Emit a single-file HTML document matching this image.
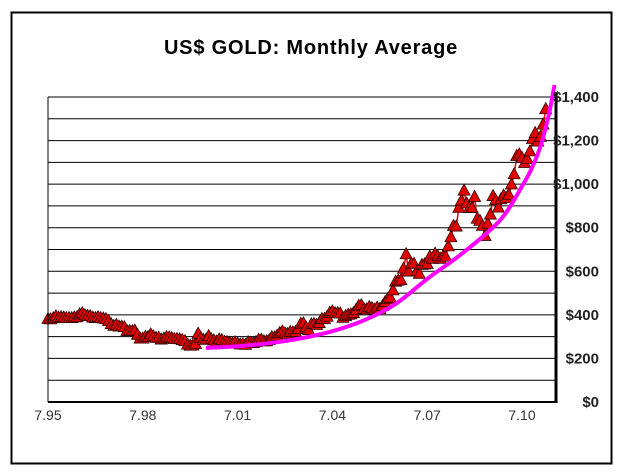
<!DOCTYPE html>
<html><head><meta charset="utf-8"><style>
html,body{margin:0;padding:0;background:#fff;}
svg{display:block;font-family:"Liberation Sans",Arial,sans-serif;}
</style></head><body>
<svg id="chart" width="621" height="474" viewBox="0 0 621 474">
<rect x="11.5" y="12.5" width="600" height="451" fill="#fff" stroke="#000" stroke-width="2"/>
<text x="311" y="54" text-anchor="middle" font-size="20" font-weight="bold" letter-spacing="0.8">US$ GOLD: Monthly Average</text>
<g id="grid"></g><g id="series"></g><g id="trend"></g><g id="axes"></g>
</svg>
<script>
const yTicks=[0,200,400,600,800,1000,1200,1400];
const yTickLabels=["$0","$200","$400","$600","$800","$1,000","$1,200","$1,400"];
const xTicks=[1995,1998,2001,2004,2007,2010];
const xTickLabels=["7.95","7.98","7.01","7.04","7.07","7.10"];
const startYear=1995;
const prices=[
379,377,382,391,385,387,386,383,383,383,386,387,
400,405,396,393,392,385,383,387,383,381,378,369,
355,347,352,344,344,341,324,324,323,325,306,289,
289,297,296,308,299,292,293,284,289,296,294,291,
287,287,286,282,277,261,256,257,264,311,293,283,
284,300,286,280,275,285,282,274,273,270,266,272,
265,262,263,260,272,270,268,273,283,283,276,276,
282,295,294,302,314,321,313,310,319,317,319,333,
357,359,340,328,355,356,351,360,379,379,389,407,
414,405,406,404,384,392,398,400,406,420,439,442,
424,423,434,429,422,431,424,438,456,470,476,510,
550,555,557,610,676,596,633,632,598,586,627,629,
631,665,655,679,667,655,665,665,712,754,806,803,
889,922,968,909,888,889,939,839,829,806,760,816,
858,943,924,890,928,945,934,949,996,1043,1127,1134,
1118,1095,1113,1148,1205,1232,1193,1215,1271,1342];
const trendYears=[2000,2001,2002,2003,2004,2005,2006,2007,2008,2009,2009.5,2010,2010.3,2010.6,2010.85,2011.03];
const trendValues=[248,256,270,292,325,375,450,565,670,790,870,990,1070,1180,1320,1455];
const NS="http://www.w3.org/2000/svg";
const L=48,R=556,T=97,B=402;
const xs=y=>L+(y-1995)*31.6;
const ys=v=>B-(v/1400)*(B-T);
function mk(t,a,p){const e=document.createElementNS(NS,t);for(const k in a)e.setAttribute(k,a[k]);p.appendChild(e);return e;}
const grid=document.getElementById('grid'),axes=document.getElementById('axes');
for(let v=100;v<=1400;v+=100){const g=mk('line',{x1:L,x2:R,y1:ys(v),y2:ys(v),stroke:'#000','stroke-width':1},grid);

}
const xa=mk('line',{x1:L,x2:R,y1:B,y2:B,stroke:'#000','stroke-width':2},axes);


const ya=mk('line',{x1:R,x2:R,y1:T-5,y2:B+1,stroke:'#000','stroke-width':3},axes);


const yl=mk('line',{x1:L,x2:L,y1:T,y2:B,stroke:'#000','stroke-width':1},axes);


yTicks.forEach((v,i)=>{const t=mk('text',{x:599,y:ys(v)+5,'font-size':15,'font-weight':'bold','text-anchor':'end',fill:'#222'},axes);t.textContent=yTickLabels[i];

});
xTicks.forEach((v,i)=>{const t=mk('text',{x:xs(v),y:420,'font-size':14,'text-anchor':'middle',fill:'#333'},axes);t.textContent=xTickLabels[i];

});
const ser=document.getElementById('series');
const pts=prices.map((v,i)=>[xs(startYear+i/12),ys(v)]);
const pl=mk('polyline',{points:pts.map(p=>p.join(',')).join(' '),fill:'none',stroke:'#e00','stroke-width':1.5},ser);


pts.forEach(p=>{const s=5;const m=mk('polygon',{points:`${p[0]},${p[1]-s-2} ${p[0]-s-1},${p[1]+s-1} ${p[0]+s+1},${p[1]+s-1}`,fill:'#e00000',stroke:'#300','stroke-width':0.8},ser);

});
const tp=trendYears.map((y,i)=>[xs(y),ys(trendValues[i])]);
let d='M'+tp[0].join(',');
for(let i=0;i<tp.length-1;i++){const p0=tp[Math.max(0,i-1)],p1=tp[i],p2=tp[i+1],p3=tp[Math.min(tp.length-1,i+2)];
const c1=[p1[0]+(p2[0]-p0[0])/6,p1[1]+(p2[1]-p0[1])/6],c2=[p2[0]-(p3[0]-p1[0])/6,p2[1]-(p3[1]-p1[1])/6];
d+=` C${c1.join(',')} ${c2.join(',')} ${p2.join(',')}`;}
const tr=mk('path',{d:d,fill:'none',stroke:'#ff00ff','stroke-width':4,'stroke-linejoin':'round'},document.getElementById('trend'));


</script>
</body></html>
